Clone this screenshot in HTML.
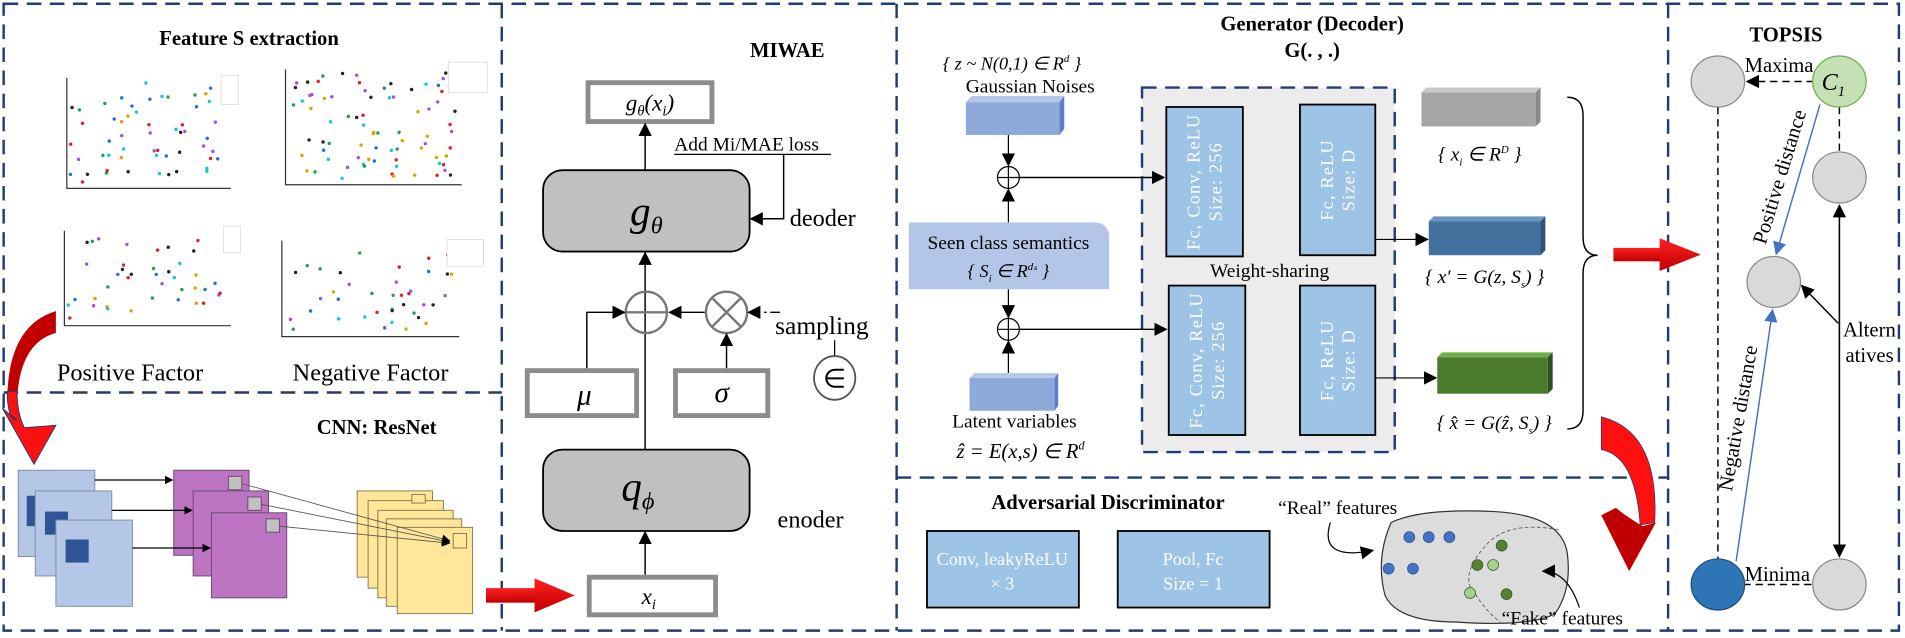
<!DOCTYPE html>
<html><head><meta charset="utf-8">
<style>
html,body{margin:0;padding:0;background:#fff;}
svg{display:block;}
text{font-family:"Liberation Serif",serif;}
.b{font-weight:bold;}
.it{font-style:italic;}
</style></head>
<body>
<svg id="s" width="1905" height="638" viewBox="0 0 1568 525" xmlns="http://www.w3.org/2000/svg">
<defs>
<marker id="ar" viewBox="0 0 10 10" refX="9" refY="5" markerWidth="7" markerHeight="7" orient="auto-start-reverse" markerUnits="userSpaceOnUse"><path d="M0,0 L10,5 L0,10 z" fill="#000"/></marker>
<marker id="arB" viewBox="0 0 10 10" refX="9" refY="5" markerWidth="11" markerHeight="11" orient="auto-start-reverse" markerUnits="userSpaceOnUse"><path d="M0,0 L10,5 L0,10 z" fill="#000"/></marker>
<marker id="arBl" viewBox="0 0 10 10" refX="9" refY="5" markerWidth="11" markerHeight="11" orient="auto" markerUnits="userSpaceOnUse"><path d="M0,0 L10,5 L0,10 z" fill="#4472c4"/></marker>
<linearGradient id="rg" x1="0" y1="0" x2="0" y2="1"><stop offset="0" stop-color="#ff2020"/><stop offset="1" stop-color="#c00000"/></linearGradient>
</defs>

<g fill="none" stroke="#1f3c74" stroke-width="2" stroke-dasharray="12 7">
<rect x="3" y="3" width="1560" height="516"/>
<line x1="413" y1="3" x2="413" y2="519"/>
<line x1="738" y1="3" x2="738" y2="519"/>
<line x1="1373" y1="3" x2="1373" y2="519"/>
<line x1="3" y1="323" x2="413" y2="323"/>
<line x1="738" y1="393" x2="1373" y2="393"/>
</g>

<text x="205" y="37" font-size="17" class="b" text-anchor="middle">Feature S extraction</text>
<g id="plots" stroke="#333" stroke-width="1" fill="none">
<path d="M55,64 V155 H190"/>
<path d="M235,57 V152 H380"/>
<path d="M53,190 V268 H190"/>
<path d="M232,198 V277 H378"/>
</g>
<g id="dots"></g>
<g font-size="4" fill="#555">
<rect x="182" y="62" width="14" height="24" fill="#fff" stroke="#ccc" stroke-width="0.5"/>
<rect x="369" y="51" width="32" height="25" fill="#fff" stroke="#ccc" stroke-width="0.5"/>
<rect x="184" y="186" width="14" height="22" fill="#fff" stroke="#ccc" stroke-width="0.5"/>
<rect x="368" y="197" width="30" height="22" fill="#fff" stroke="#ccc" stroke-width="0.5"/>
</g>
<text x="107" y="313" font-size="20" text-anchor="middle">Positive Factor</text>
<text x="305" y="313" font-size="20" text-anchor="middle">Negative Factor</text>

<path d="M46,256 Q6,268 6,330 L14,330 Q16,282 46,274 Z" fill="#c00000"/>
<path d="M6,322 Q6,345 14,346 L2,336 L28,382 L46,350 L20,352 Q14,340 14,322 Z" fill="#ff1010" stroke="#1f3c74" stroke-width="0.8"/>

<text x="310" y="357" font-size="17" class="b" text-anchor="middle">CNN: ResNet</text>
<g stroke="#7f8fa8" stroke-width="0.8">
<rect x="15" y="387" width="63" height="71" fill="#b4c7e7"/>
<rect x="22" y="408" width="8" height="25" fill="#2f5597" stroke="none"/>
<rect x="29" y="404" width="63" height="70" fill="#b4c7e7"/>
<rect x="37" y="421" width="19" height="19" fill="#2f5597" stroke="none"/>
<rect x="46" y="428" width="63" height="71" fill="#b4c7e7"/>
<rect x="54" y="444" width="19" height="19" fill="#2f5597" stroke="none"/>
</g>
<g stroke="#6a4a70" stroke-width="0.8">
<rect x="143" y="387" width="62" height="70" fill="#bd74c2"/>
<rect x="188" y="392" width="11" height="11" fill="#c0c0c0"/>
<rect x="159" y="404" width="62" height="70" fill="#bd74c2"/>
<rect x="204" y="409" width="11" height="11" fill="#c0c0c0"/>
<rect x="174" y="422" width="62" height="70" fill="#bd74c2"/>
<rect x="219" y="427" width="11" height="11" fill="#c0c0c0"/>
</g>
<g stroke="#000" stroke-width="1" marker-end="url(#ar)">
<line x1="78" y1="395" x2="142" y2="395"/>
<line x1="92" y1="420" x2="158" y2="420"/>
<line x1="109" y1="451" x2="173" y2="451"/>
</g>
<g stroke="#8a7a50" stroke-width="0.8" fill="#ffe699">
<rect x="294" y="404" width="62" height="71"/>
<rect x="303" y="412" width="62" height="72"/>
<rect x="311" y="420" width="62" height="72"/>
<rect x="318" y="427" width="62" height="72"/>
<rect x="327" y="434" width="62" height="71"/>
<rect x="339" y="407" width="11" height="7" fill="#ffe699"/>
<rect x="373" y="439" width="11" height="12" fill="#ffe699"/>
</g>
<g stroke="#555" stroke-width="0.7" marker-end="url(#ar)">
<line x1="199" y1="398" x2="370" y2="445"/>
<line x1="215" y1="415" x2="370" y2="446"/>
<line x1="230" y1="433" x2="370" y2="447"/>
</g>
<rect x="400" y="484" width="42" height="12" fill="url(#rg)"/>
<polygon points="440,476 473,490 440,504" fill="url(#rg)"/>

<text x="648" y="47" font-size="17" class="b" text-anchor="middle">MIWAE</text>
<rect x="484" y="68" width="102" height="32" fill="#fff" stroke="#8c8c8c" stroke-width="4"/>
<text x="535" y="91" font-size="19" class="it" text-anchor="middle">g<tspan font-size="12" dy="4">θ</tspan><tspan dy="-4">(x</tspan><tspan font-size="12" dy="4">i</tspan><tspan dy="-4">)</tspan></text>
<line x1="531" y1="140" x2="531" y2="102" stroke="#000" stroke-width="1.2" marker-end="url(#arB)"/>
<text x="555" y="124" font-size="16">Add Mi/MAE loss</text>
<line x1="555" y1="127" x2="684" y2="127" stroke="#000" stroke-width="1"/>
<polyline points="645,127 645,180 618,180" fill="none" stroke="#000" stroke-width="1.2" marker-end="url(#arB)"/>
<text x="650" y="186" font-size="20">deoder</text>
<rect x="447" y="140" width="170" height="67" rx="16" fill="#c0c0c0" stroke="#000" stroke-width="1.5"/>
<text x="532" y="185" font-size="34" class="it" text-anchor="middle">g<tspan font-size="20" dy="7">θ</tspan></text>
<line x1="531" y1="370" x2="531" y2="208" stroke="#000" stroke-width="1.2" marker-end="url(#arB)"/>
<circle cx="532" cy="257" r="17" fill="none" stroke="#777" stroke-width="2"/>
<line x1="515" y1="257" x2="549" y2="257" stroke="#777" stroke-width="2"/>
<circle cx="598" cy="257" r="17" fill="none" stroke="#777" stroke-width="2"/>
<line x1="586" y1="245" x2="610" y2="269" stroke="#777" stroke-width="2"/>
<line x1="610" y1="245" x2="586" y2="269" stroke="#777" stroke-width="2"/>
<line x1="580" y1="257" x2="551" y2="257" stroke="#000" stroke-width="1.2" marker-end="url(#arB)"/>
<polyline points="483,303 483,257 514,257" fill="none" stroke="#000" stroke-width="1.2" marker-end="url(#arB)"/>
<line x1="598" y1="303" x2="598" y2="275" stroke="#000" stroke-width="1.2" marker-end="url(#arB)"/>
<line x1="642" y1="257" x2="616" y2="257" stroke="#000" stroke-width="1.2" stroke-dasharray="8 3 2 3" marker-end="url(#arB)"/>
<text x="638" y="275" font-size="21">sampling</text>
<line x1="687" y1="280" x2="687" y2="293" stroke="#000" stroke-width="1"/>
<ellipse cx="687" cy="311" rx="17" ry="18" fill="#fff" stroke="#555" stroke-width="1.5"/>
<text x="687" y="319" font-size="22" text-anchor="middle">∈</text>
<rect x="434" y="305" width="90" height="37" fill="#fff" stroke="#8c8c8c" stroke-width="4"/>
<text x="481" y="333" font-size="24" class="it" text-anchor="middle">μ</text>
<rect x="556" y="305" width="76" height="37" fill="#fff" stroke="#8c8c8c" stroke-width="4"/>
<text x="594" y="331" font-size="24" class="it" text-anchor="middle">σ</text>
<rect x="447" y="370" width="170" height="67" rx="16" fill="#c0c0c0" stroke="#000" stroke-width="1.5"/>
<text x="525" y="412" font-size="34" class="it" text-anchor="middle">q<tspan font-size="20" dy="7">ϕ</tspan></text>
<text x="640" y="434" font-size="20">enoder</text>
<line x1="531" y1="473" x2="531" y2="438" stroke="#000" stroke-width="1.2" marker-end="url(#arB)"/>
<rect x="485" y="475" width="104" height="31" fill="#fff" stroke="#8c8c8c" stroke-width="4"/>
<text x="534" y="497" font-size="19" class="it" text-anchor="middle">x<tspan font-size="12" dy="4">i</tspan></text>

<text x="1080" y="25" font-size="17" class="b" text-anchor="middle">Generator (Decoder)</text>
<text x="1080" y="47" font-size="17" class="b" text-anchor="middle">G(. , .)</text>
<text x="833" y="57" font-size="15" class="it" text-anchor="middle">{ z ~ N(0,1) ∈ R<tspan font-size="9" dy="-6">d</tspan><tspan dy="6"> }</tspan></text>
<text x="848" y="76" font-size="16" text-anchor="middle">Gaussian Noises</text>
<polygon points="795,84 800,79 876,79 872,84" fill="#b4c7e7"/>
<polygon points="872,84 876,79 876,106 872,111" fill="#5b7fc8"/>
<rect x="795" y="84" width="77" height="27" fill="#8eaadb"/>
<line x1="830" y1="111" x2="830" y2="136" stroke="#000" stroke-width="1" marker-end="url(#arB)"/>
<circle cx="830" cy="146" r="9" fill="#fff" stroke="#000" stroke-width="1"/>
<path d="M821,146 H839 M830,137 V155" stroke="#000" stroke-width="1"/>
<line x1="830" y1="183" x2="830" y2="156" stroke="#000" stroke-width="1" marker-end="url(#arB)"/>
<path d="M748,183 H900 Q913,183 913,196 V238 H748 Z" fill="#b4c6e7"/>
<text x="830" y="205" font-size="16" text-anchor="middle">Seen class semantics</text>
<text x="830" y="228" font-size="15" class="it" text-anchor="middle">{ S<tspan font-size="9" dy="4">i</tspan><tspan dy="-4"> ∈ R</tspan><tspan font-size="9" dy="-6">dₛ</tspan><tspan dy="6"> }</tspan></text>
<line x1="830" y1="238" x2="830" y2="261" stroke="#000" stroke-width="1" marker-end="url(#arB)"/>
<circle cx="830" cy="271" r="9" fill="#fff" stroke="#000" stroke-width="1"/>
<path d="M821,271 H839 M830,262 V280" stroke="#000" stroke-width="1"/>
<line x1="830" y1="307" x2="830" y2="281" stroke="#000" stroke-width="1" marker-end="url(#arB)"/>
<polygon points="798,311 802,307 871,307 868,311" fill="#b4c7e7"/>
<polygon points="868,311 871,307 871,334 868,338" fill="#5b7fc8"/>
<rect x="798" y="311" width="70" height="27" fill="#8eaadb"/>
<text x="835" y="352" font-size="16" text-anchor="middle">Latent variables</text>
<text x="840" y="377" font-size="17" class="it" text-anchor="middle">ẑ = E(x,s) ∈ R<tspan font-size="10" dy="-7">d</tspan></text>

<rect x="940" y="72" width="208" height="300" fill="#ececec" stroke="#1f3c74" stroke-width="2" stroke-dasharray="12 7"/>
<line x1="839" y1="146" x2="958" y2="146" stroke="#000" stroke-width="1.2" marker-end="url(#arB)"/>
<line x1="839" y1="271" x2="960" y2="271" stroke="#000" stroke-width="1.2" marker-end="url(#arB)"/>
<g fill="#9dc3e6" stroke="#000" stroke-width="1.5">
<rect x="960" y="88" width="63" height="123"/>
<rect x="1070" y="86" width="62" height="124"/>
<rect x="962" y="235" width="63" height="123"/>
<rect x="1070" y="235" width="62" height="123"/>
</g>
<g fill="#fff" font-size="15" text-anchor="middle" letter-spacing="1">
<g transform="translate(991.5,149.5) rotate(-90)"><text y="-4">Fc, Conv, ReLU</text><text y="14">Size: 256</text></g>
<g transform="translate(1101,148) rotate(-90)"><text y="-4">Fc, ReLU</text><text y="14">Size: D</text></g>
<g transform="translate(993.5,296.5) rotate(-90)"><text y="-4">Fc, Conv, ReLU</text><text y="14">Size: 256</text></g>
<g transform="translate(1101,296.5) rotate(-90)"><text y="-4">Fc, ReLU</text><text y="14">Size: D</text></g>
</g>
<text x="1045" y="228" font-size="16" text-anchor="middle">Weight-sharing</text>
<line x1="1132" y1="197" x2="1175" y2="197" stroke="#000" stroke-width="1" marker-end="url(#arB)"/>
<line x1="1132" y1="311" x2="1182" y2="311" stroke="#000" stroke-width="1" marker-end="url(#arB)"/>
<polygon points="1170,76 1174,72 1268,72 1264,76" fill="#c8c8c8"/>
<polygon points="1264,76 1268,72 1268,100 1264,104" fill="#8a8a8a"/>
<rect x="1170" y="76" width="94" height="28" fill="#a6a6a6"/>
<text x="1218" y="132" font-size="16" class="it" text-anchor="middle">{ x<tspan font-size="9" dy="4">i</tspan><tspan dy="-4"> ∈  R</tspan><tspan font-size="9" dy="-6">D</tspan><tspan dy="6"> }</tspan></text>
<polygon points="1176,182 1180,178 1272,178 1268,182" fill="#6a93c0"/>
<polygon points="1268,182 1272,178 1272,206 1268,210" fill="#2e5278"/>
<rect x="1176" y="182" width="92" height="28" fill="#41719c"/>
<text x="1222" y="233" font-size="16" class="it" text-anchor="middle">{ x′ = G(z, S<tspan font-size="9" dy="4">s</tspan><tspan dy="-4">) }</tspan></text>
<polygon points="1183,294 1187,290 1278,290 1274,294" fill="#70ad47"/>
<polygon points="1274,294 1278,290 1278,320 1274,324" fill="#2f5220"/>
<rect x="1183" y="294" width="91" height="30" fill="#4a7a2c"/>
<text x="1230" y="353" font-size="16" class="it" text-anchor="middle">{ x̂ = G(ẑ, S<tspan font-size="9" dy="4">s</tspan><tspan dy="-4">) }</tspan></text>
<path d="M1290,80 Q1303,80 1303,95 V195 Q1303,210 1315,210 Q1303,210 1303,225 V338 Q1303,353 1290,353" fill="none" stroke="#000" stroke-width="1.2"/>
<rect x="1328" y="204" width="40" height="11" fill="url(#rg)"/>
<polygon points="1366,196 1400,209.5 1366,223" fill="url(#rg)"/>
<path d="M1318,343 Q1366,355 1362,430 L1350,432 Q1346,375 1318,370 Z" fill="#ff1010" stroke="#1f3c74" stroke-width="0.6"/>
<path d="M1318,424 L1341,470 L1363,430 L1352,433 Q1340,426 1330,418 Z" fill="#c00000"/>

<text x="912" y="419" font-size="17" class="b" text-anchor="middle">Adversarial Discriminator</text>
<rect x="763" y="437" width="125" height="63" fill="#9dc3e6" stroke="#000" stroke-width="1.5"/>
<text x="825" y="465" font-size="15" fill="#fff" text-anchor="middle">Conv, leakyReLU</text>
<text x="825" y="485" font-size="15" fill="#fff" text-anchor="middle">× 3</text>
<rect x="920" y="437" width="125" height="63" fill="#9dc3e6" stroke="#000" stroke-width="1.5"/>
<text x="982" y="465" font-size="15" fill="#fff" text-anchor="middle">Pool, Fc</text>
<text x="982" y="485" font-size="15" fill="#fff" text-anchor="middle">Size = 1</text>
<path d="M1145,430 Q1170,418 1230,421 Q1285,424 1290,455 Q1294,485 1280,505 Q1260,516 1200,512 Q1150,512 1140,490 Q1132,460 1145,430 Z" fill="#dcdcdc" stroke="#333" stroke-width="1"/>
<path d="M1283,436 Q1240,428 1222,450 Q1200,475 1215,490 Q1225,505 1235,512" fill="none" stroke="#666" stroke-width="0.8" stroke-dasharray="3 2"/>
<g fill="#4472c4" stroke="#2f5597" stroke-width="0.6">
<circle cx="1160" cy="442" r="4.5"/><circle cx="1176" cy="442" r="4.5"/><circle cx="1193" cy="442" r="4.5"/>
<circle cx="1143" cy="468" r="4.5"/><circle cx="1163" cy="468" r="4.5"/>
</g>
<g stroke="#385723" stroke-width="0.6">
<circle cx="1236" cy="449" r="4.5" fill="#548235"/><circle cx="1216" cy="465" r="4.5" fill="#548235"/>
<circle cx="1229" cy="465" r="4.5" fill="#a9d18e"/><circle cx="1210" cy="488" r="4.5" fill="#a9d18e"/>
<circle cx="1240" cy="489" r="4.5" fill="#548235"/>
</g>
<text x="1052" y="423" font-size="16">“Real”  features</text>
<path d="M1095,430 Q1085,462 1130,453" fill="none" stroke="#000" stroke-width="1" marker-end="url(#arB)"/>
<text x="1236" y="514" font-size="16">“Fake”  features</text>
<path d="M1300,500 Q1290,470 1270,470" fill="none" stroke="#000" stroke-width="1" marker-end="url(#arB)"/>

<text x="1470" y="34" font-size="17" class="b" text-anchor="middle">TOPSIS</text>
<g stroke="#000" stroke-width="1.2" stroke-dasharray="6 4" fill="none">
<line x1="1414" y1="88" x2="1414" y2="460"/>
<line x1="1514" y1="88" x2="1514" y2="125"/>
<line x1="1435" y1="481" x2="1493" y2="481"/>
<line x1="1493" y1="67" x2="1438" y2="67" marker-end="url(#arB)"/>
</g>
<line x1="1514" y1="169" x2="1514" y2="458" stroke="#000" stroke-width="1.3" marker-start="url(#arB)" marker-end="url(#arB)"/>
<g stroke="#888" stroke-width="1" fill="#d9d9d9">
<ellipse cx="1414" cy="67" rx="22" ry="21"/>
<ellipse cx="1514" cy="146" rx="22" ry="21"/>
<ellipse cx="1460" cy="232" rx="22" ry="21"/>
<ellipse cx="1514" cy="481" rx="22" ry="21"/>
</g>
<ellipse cx="1514" cy="67" rx="22" ry="21" fill="#c5e0b4" stroke="#70ad47" stroke-width="1"/>
<text x="1509" y="74" font-size="20" class="it" text-anchor="middle">C<tspan font-size="12" dy="5">1</tspan></text>
<ellipse cx="1414" cy="481" rx="22" ry="21" fill="#2e75b6" stroke="#1f4e79" stroke-width="1"/>
<text x="1436" y="59" font-size="17">Maxima</text>
<text x="1436" y="478" font-size="17">Minima</text>
<line x1="1498" y1="86" x2="1462" y2="209" stroke="#4472c4" stroke-width="1.2" marker-end="url(#arBl)"/>
<line x1="1429" y1="462" x2="1459" y2="255" stroke="#4472c4" stroke-width="1.2" marker-end="url(#arBl)"/>
<line x1="1513" y1="266" x2="1483" y2="235" stroke="#000" stroke-width="1.2" marker-end="url(#arB)"/>
<text transform="translate(1470,147) rotate(-73)" font-size="17" text-anchor="middle">Positive distance</text>
<text transform="translate(1436,345) rotate(-80)" font-size="17" text-anchor="middle">Negative distance</text>
<text x="1517" y="277" font-size="17">Altern</text>
<text x="1519" y="298" font-size="17">atives</text>
</svg>
<script>
(function(){
var seed=7;function r(){seed=(seed*16807)%2147483647;return (seed-1)/2147483646;}
var cols=["#222","#e02020","#1f6fe0","#20a050","#a050e0","#e0a000","#10c8d8"];
var plots=[[58,68,185,150,55],[238,60,378,148,80],[56,195,185,262,40],[236,205,375,272,40]];
var g=document.getElementById("dots");var ns="http://www.w3.org/2000/svg";
plots.forEach(function(p){for(var i=0;i<p[4];i++){var c=document.createElementNS(ns,"circle");
c.setAttribute("cx",(p[0]+r()*(p[2]-p[0])).toFixed(1));c.setAttribute("cy",(p[1]+r()*(p[3]-p[1])).toFixed(1));
c.setAttribute("r","1.4");c.setAttribute("fill",cols[Math.floor(r()*7)]);g.appendChild(c);}});
})();
</script>
</body></html>
